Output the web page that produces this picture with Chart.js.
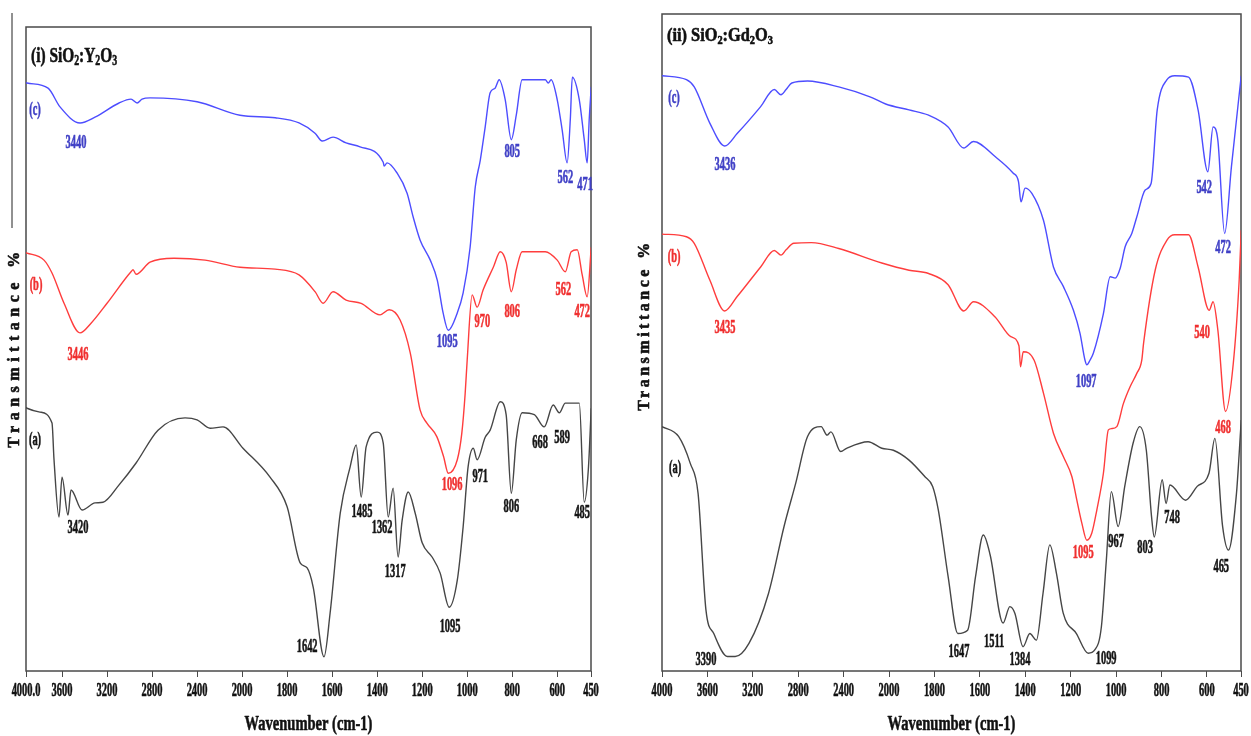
<!DOCTYPE html>
<html>
<head>
<meta charset="utf-8">
<title>FTIR spectra</title>
<script src="https://cdn.jsdelivr.net/npm/chart.js@4.4.1/dist/chart.umd.min.js"></script>
<style>
  html, body { margin: 0; padding: 0; background: #fff; }
  .panel { position: absolute; top: 0; }
  #panel-y { left: 0; }
  #panel-gd { left: 625px; }
</style>
</head>
<body>
<canvas id="panel-y" class="panel" width="620" height="736"></canvas>
<canvas id="panel-gd" class="panel" width="626" height="736"></canvas>
<script>
// ---- data (wavenumber cm-1 / transmittance, % of panel height) ----

const tickWn = [4000, 3600, 3200, 2800, 2400, 2000, 1800, 1600, 1400, 1200, 1000, 800, 600, 450];
const ytTickLabels = ['4000.0', '3600', '3200', '2800', '2400', '2000', '1800', '1600', '1400', '1200', '1000', '800', '600', '450'];
const gdTickLabels = ['4000', '3600', '3200', '2800', '2400', '2000', '1800', '1600', '1400', '1200', '1000', '800', '600', '450'];
const ytAxisStart = 3920;   // left panel is cut a little short of 4000
const gdAxisStart = 4000;
const axisEnd = 450;

// (i) SiO2:Y2O3
const ytA_wn = [3930, 3911, 3796, 3689, 3671, 3627, 3600, 3547, 3520, 3422, 3307, 3236, 3093, 2942, 2747, 2507, 2400, 2284, 2169, 1996, 1876, 1800, 1742, 1711, 1684, 1636, 1609, 1564, 1520, 1493, 1471, 1449, 1400, 1373, 1351, 1329, 1307, 1289, 1262, 1231, 1200, 1156, 1120, 1080, 1044, 1018, 996, 973, 956, 920, 898, 853, 827, 804, 782, 756, 702, 658, 618, 591, 564, 502, 480, 462, 449];
const ytA_tr = [41.0, 40.8, 40.2, 38.5, 32.8, 23.9, 30.1, 24.2, 28.1, 25.0, 26.1, 26.2, 28.9, 32.3, 37.4, 39.3, 39.0, 37.7, 37.9, 34.6, 30.1, 25.5, 16.8, 16.0, 13.0, 2.2, 9.0, 24.5, 31.7, 35.1, 27.0, 34.8, 37.1, 35.4, 23.9, 28.4, 17.7, 23.4, 27.8, 24.5, 19.9, 17.7, 15.2, 9.9, 14.1, 22.4, 31.7, 34.6, 32.8, 36.3, 37.4, 41.8, 39.8, 27.6, 35.9, 40.1, 39.8, 37.9, 41.3, 40.1, 41.6, 41.6, 26.2, 31.2, 40.8];

const ytB_wn = [3930, 3911, 3760, 3689, 3582, 3440, 3342, 3200, 2987, 2969, 2942, 2818, 2604, 2329, 2018, 1853, 1747, 1676, 1640, 1596, 1538, 1471, 1387, 1347, 1298, 1253, 1209, 1179, 1135, 1105, 1084, 1044, 1024, 1009, 1000, 978, 956, 929, 884, 853, 827, 804, 782, 756, 653, 600, 564, 538, 511, 489, 467, 449];
const ytB_tr = [65.0, 64.9, 63.8, 61.8, 57.1, 52.5, 54.0, 57.1, 62.0, 62.3, 61.6, 63.5, 64.1, 63.8, 62.7, 62.4, 61.5, 58.9, 57.1, 58.9, 57.6, 57.1, 55.3, 56.1, 54.5, 49.4, 40.5, 38.5, 36.4, 33.3, 30.7, 32.8, 36.9, 43.1, 48.3, 58.4, 56.5, 59.2, 62.7, 65.1, 63.5, 58.9, 62.3, 65.1, 65.1, 63.8, 62.0, 65.1, 65.4, 61.5, 58.1, 65.8];

const ytC_wn = [3930, 3911, 3724, 3618, 3440, 3307, 3093, 2987, 2933, 2889, 2818, 2400, 2018, 1853, 1747, 1676, 1644, 1596, 1538, 1476, 1373, 1369, 1356, 1311, 1267, 1240, 1209, 1164, 1133, 1107, 1084, 1044, 1018, 987, 964, 942, 920, 898, 876, 858, 831, 804, 782, 756, 653, 640, 627, 600, 578, 556, 542, 533, 502, 480, 467, 458, 449];
const ytC_tr = [91.4, 91.3, 90.5, 87.6, 85.1, 86.0, 88.2, 88.8, 88.2, 88.8, 89.0, 88.4, 86.3, 85.9, 85.1, 83.5, 82.3, 82.9, 82.0, 81.4, 79.0, 78.4, 78.9, 77.3, 74.2, 70.5, 66.9, 63.8, 60.7, 55.6, 52.9, 55.6, 58.7, 65.8, 75.2, 79.3, 84.5, 89.8, 90.5, 91.8, 88.7, 82.5, 86.3, 91.8, 91.8, 91.3, 91.8, 88.7, 84.0, 78.9, 85.6, 92.2, 88.7, 82.5, 78.9, 85.6, 90.7];

// (ii) SiO2:Gd2O3
const gdA_wn = [4000, 3854, 3751, 3682, 3613, 3544, 3424, 3355, 3234, 3062, 2925, 2822, 2718, 2598, 2546, 2512, 2426, 2374, 2185, 2064, 1981, 1912, 1843, 1808, 1783, 1740, 1697, 1654, 1619, 1585, 1555, 1498, 1468, 1446, 1410, 1380, 1351, 1322, 1292, 1263, 1233, 1175, 1123, 1094, 1065, 1043, 1021, 991, 962, 925, 896, 867, 844, 832, 797, 780, 763, 694, 643, 591, 565, 531, 505, 470, 458, 449];
const gdA_tr = [37.2, 35.7, 31.6, 27.0, 9.3, 5.7, 2.2, 2.2, 4.2, 11.8, 22.0, 28.6, 35.7, 37.2, 35.9, 36.4, 33.4, 33.9, 34.9, 33.9, 33.6, 32.1, 29.6, 28.1, 24.5, 14.4, 5.7, 6.2, 14.4, 20.7, 17.7, 7.3, 9.8, 8.8, 3.7, 5.7, 4.7, 11.8, 19.2, 14.9, 8.8, 5.7, 2.7, 3.2, 6.7, 16.9, 27.3, 22.0, 28.1, 34.7, 37.2, 33.6, 23.5, 20.4, 29.1, 25.5, 28.3, 26.0, 28.1, 30.1, 35.4, 22.0, 18.4, 27.0, 33.1, 38.2];

const gdB_wn = [4000, 3785, 3716, 3579, 3448, 3338, 3131, 3011, 2952, 2907, 2839, 2684, 2443, 2064, 1912, 1826, 1740, 1671, 1628, 1533, 1464, 1428, 1421, 1409, 1361, 1320, 1276, 1232, 1195, 1173, 1151, 1129, 1107, 1085, 1056, 1034, 1019, 997, 968, 938, 909, 887, 879, 828, 776, 742, 681, 639, 590, 573, 552, 518, 484, 458, 449];
const gdB_tr = [66.5, 66.1, 65.1, 59.5, 54.8, 57.0, 61.5, 64.0, 63.3, 64.1, 65.1, 65.2, 64.3, 62.1, 61.0, 60.5, 58.8, 54.8, 56.2, 53.9, 50.9, 49.5, 46.3, 48.6, 47.3, 42.3, 36.2, 32.6, 29.6, 26.0, 22.5, 19.9, 21.0, 24.5, 30.1, 36.7, 36.9, 37.2, 40.7, 43.3, 45.3, 47.3, 49.9, 61.0, 65.6, 66.4, 66.4, 61.5, 54.9, 56.2, 51.9, 39.5, 46.8, 59.5, 67.1];

const gdC_wn = [4000, 3785, 3716, 3579, 3448, 3338, 3131, 3011, 2952, 2907, 2856, 2718, 2443, 2168, 2030, 1912, 1826, 1740, 1671, 1628, 1533, 1454, 1430, 1419, 1401, 1371, 1320, 1276, 1232, 1188, 1159, 1137, 1129, 1115, 1100, 1056, 1026, 1004, 982, 960, 931, 909, 872, 846, 819, 776, 742, 681, 639, 596, 573, 552, 522, 492, 449];
const gdC_tr = [90.6, 90.0, 88.9, 83.4, 79.9, 81.8, 85.9, 88.5, 87.7, 88.5, 89.5, 89.8, 88.9, 87.4, 86.3, 85.4, 84.6, 82.8, 79.6, 80.6, 78.3, 75.8, 74.5, 71.4, 73.5, 72.7, 68.6, 61.5, 58.5, 54.9, 51.4, 47.3, 46.6, 47.3, 48.4, 54.4, 60.0, 59.8, 61.3, 64.6, 66.6, 69.1, 73.2, 74.2, 85.4, 90.0, 90.6, 90.4, 85.4, 76.0, 82.8, 80.8, 66.6, 76.8, 90.6];

// peak labels: text, wavenumber, transmittance, series
const ytNotes = [
  ['(c)', 3840, 87.1, 'c'], ['3440', 3476, 82.0, 'c'], ['1095', 1089, 51.1, 'c'], ['805', 800, 80.6, 'c'], ['562', 564, 76.6, 'c'], ['471', 476, 75.5, 'c'],
  ['(b)', 3831, 59.9, 'b'], ['3446', 3458, 49.1, 'b'], ['1096', 1067, 28.9, 'b'], ['970', 933, 54.2, 'b'], ['806', 800, 55.7, 'b'], ['562', 573, 59.2, 'b'], ['472', 489, 55.7, 'b'],
  ['(a)', 3840, 35.9, 'a'], ['3420', 3458, 22.2, 'a'], ['1642', 1711, 3.7, 'a'], ['1485', 1467, 24.7, 'a'], ['1362', 1378, 22.2, 'a'], ['1317', 1320, 15.4, 'a'],
  ['1095', 1076, 6.8, 'a'], ['971', 942, 30.1, 'a'], ['806', 804, 25.5, 'a'], ['668', 676, 35.4, 'a'], ['589', 578, 36.2, 'a'], ['485', 489, 24.5, 'a']
];
const gdNotes = [
  ['(c)', 3894, 87.2, 'c'], ['3436', 3445, 77.0, 'c'], ['1097', 1132, 44.0, 'c'], ['542', 612, 73.5, 'c'], ['472', 529, 64.4, 'c'],
  ['(b)', 3894, 63.0, 'b'], ['3435', 3445, 52.2, 'b'], ['1095', 1145, 18.0, 'b'], ['540', 621, 51.4, 'b'], ['468', 529, 37.0, 'b'],
  ['(a)', 3885, 30.9, 'a'], ['3390', 3612, 1.7, 'a'], ['1647', 1692, 2.9, 'a'], ['1511', 1537, 4.4, 'a'], ['1384', 1423, 1.7, 'a'],
  ['1099', 1044, 1.8, 'a'], ['967', 1000, 19.6, 'a'], ['803', 872, 18.7, 'a'], ['748', 753, 23.3, 'a'], ['465', 537, 15.8, 'a']
];

// panel titles as runs of [text, isSubscript]
const ytTitle = [['(i) SiO', false], ['2', true], [':Y', false], ['2', true], ['O', false], ['3', true]];
const gdTitle = [['(ii) SiO', false], ['2', true], [':Gd', false], ['2', true], ['O', false], ['3', true]];

// ---- drawing ----

const FONT = "'Liberation Serif', 'Times New Roman', serif";
const LINE = { a: '#464646', b: '#ff3d3d', c: '#4d4dff' };
const INK = { a: '#151515', b: '#f03030', c: '#4141c6' };
// the original lettering is squeezed sideways; horizontal scale by font size
const NARROW = { 19: 0.55, 22: 0.66 };
const EMBOLDEN = 0.6;

// the axis runs 400 cm-1 per division above 2000 and 200 per division below
function axisPos(wn) {
  return wn >= 2000 ? (4000 - wn) / 400 : 5 + (2000 - wn) / 200;
}

function points(wn, tr) {
  return wn.map((w, i) => ({ x: axisPos(w), y: tr[i] }));
}

const narrowText = {
  id: 'narrowText',
  beforeInit(chart) {
    const ctx = chart.ctx;
    const fill = ctx.fillText;
    const stroke = ctx.strokeText;
    ctx.fillText = function (text, x, y) {
      const m = this.font.match(/([\d.]+)px/);
      const k = this.squeeze || (m && NARROW[parseFloat(m[1])]) || 1;
      this.save();
      this.translate(x, y);
      this.scale(k, 1);
      fill.call(this, text, 0, 0);
      // thicken the strokes a touch, the scanned lettering is heavy
      this.lineWidth = EMBOLDEN;
      this.lineJoin = 'round';
      this.strokeStyle = this.fillStyle;
      stroke.call(this, text, 0, 0);
      this.restore();
    };
  }
};

function drawRuns(ctx, runs, x, y, size, k) {
  ctx.save();
  ctx.translate(x, y);
  ctx.scale(k, 1);
  ctx.squeeze = 1;
  ctx.textAlign = 'left';
  ctx.textBaseline = 'alphabetic';
  ctx.fillStyle = '#111';
  let cx = 0;
  for (const [text, sub] of runs) {
    ctx.font = `bold ${sub ? Math.round(size * 0.62) : size}px ${FONT}`;
    ctx.fillText(text, cx, sub ? size * 0.14 : 0);
    cx += ctx.measureText(text).width;
  }
  ctx.squeeze = 0;
  ctx.restore();
}

const panelDecor = {
  id: 'panelDecor',
  beforeDatasetsDraw(chart, args, opts) {
    const { ctx, chartArea: a } = chart;
    ctx.save();
    ctx.strokeStyle = '#4a4a4a';
    ctx.lineWidth = 1.5;
    ctx.strokeRect(a.left, a.top, a.right - a.left, a.bottom - a.top);
    if (opts.rule) {
      // stray rule at the far left of the original figure
      ctx.lineWidth = 1;
      ctx.strokeStyle = '#222';
      ctx.beginPath();
      ctx.moveTo(opts.rule[0], opts.rule[1]);
      ctx.lineTo(opts.rule[0], opts.rule[2]);
      ctx.stroke();
    }
    ctx.restore();
  },
  afterDatasetsDraw(chart, args, opts) {
    const { ctx, scales: { x, y } } = chart;
    ctx.save();
    ctx.textAlign = 'center';
    ctx.textBaseline = 'middle';
    ctx.font = `bold 19px ${FONT}`;
    for (const [text, wn, tr, s] of opts.notes) {
      ctx.fillStyle = INK[s];
      ctx.fillText(text, x.getPixelForValue(axisPos(wn)), y.getPixelForValue(tr));
    }
    ctx.restore();

    drawRuns(ctx, opts.title, opts.titleAt[0], opts.titleAt[1], opts.titleSize, opts.titleSqueeze);

    // y title, letter-spaced
    ctx.save();
    ctx.translate(opts.yTitleAt[0], opts.yTitleAt[1]);
    ctx.rotate(-Math.PI / 2);
    ctx.font = `bold 16px ${FONT}`;
    ctx.letterSpacing = opts.yTitleSpacing + 'px';
    ctx.textAlign = 'center';
    ctx.textBaseline = 'middle';
    ctx.fillStyle = '#111';
    ctx.squeeze = 1;
    ctx.fillText('Transmittance %', 0, 0);
    ctx.squeeze = 0;
    ctx.restore();
  }
};

function makePanel(canvasId, series, cfg) {
  const labels = cfg.tickLabels;
  return new Chart(document.getElementById(canvasId), {
    type: 'line',
    data: {
      datasets: series.map(([wn, tr, key]) => ({
        data: points(wn, tr),
        borderColor: LINE[key],
        borderWidth: 1.4,
        pointRadius: 0,
        fill: false,
        cubicInterpolationMode: 'monotone'
      }))
    },
    options: {
      responsive: false,
      animation: false,
      events: [],
      layout: { padding: cfg.padding },
      plugins: {
        legend: { display: false },
        tooltip: { enabled: false },
        panelDecor: cfg.decor
      },
      scales: {
        x: {
          type: 'linear',
          bounds: 'data',
          min: axisPos(cfg.start),
          max: axisPos(axisEnd),
          afterBuildTicks: s => {
            s.ticks = tickWn.map(w => ({ value: Math.max(axisPos(w), s.min) }));
          },
          afterFit: s => {
            s.height = 65;
            s.paddingLeft = 0;
            s.paddingRight = 0;
          },
          border: { display: false },
          grid: { drawOnChartArea: false, tickLength: 6, color: '#4a4a4a', lineWidth: 1 },
          ticks: {
            autoSkip: false,
            maxRotation: 0,
            padding: 3,
            color: '#111',
            font: { family: FONT, size: 19, weight: 'bold' },
            callback: (v, i) => labels[i]
          },
          title: {
            display: true,
            text: 'Wavenumber (cm-1)',
            color: '#111',
            font: { family: FONT, size: 22, weight: 'bold' },
            padding: { top: 0, bottom: -2 }
          }
        },
        y: { display: false, min: 0, max: 100 }
      }
    },
    plugins: [narrowText, panelDecor]
  });
}

makePanel('panel-y', [[ytA_wn, ytA_tr, 'a'], [ytB_wn, ytB_tr, 'b'], [ytC_wn, ytC_tr, 'c']], {
  start: ytAxisStart,
  tickLabels: ytTickLabels,
  padding: { left: 26, top: 27, right: 29, bottom: 0 },
  decor: {
    notes: ytNotes,
    title: ytTitle, titleAt: [31, 62], titleSize: 22, titleSqueeze: 0.7,
    yTitleAt: [15, 347], yTitleSpacing: 5.5,
    rule: [12, 13, 228]
  }
});

makePanel('panel-gd', [[gdA_wn, gdA_tr, 'a'], [gdB_wn, gdB_tr, 'b'], [gdC_wn, gdC_tr, 'c']], {
  start: gdAxisStart,
  tickLabels: gdTickLabels,
  padding: { left: 37, top: 14, right: 10, bottom: 0 },
  decor: {
    notes: gdNotes,
    title: gdTitle, titleAt: [42, 41], titleSize: 19, titleSqueeze: 0.86,
    yTitleAt: [20, 325], yTitleSpacing: 3.5
  }
});
</script>
</body>
</html>
